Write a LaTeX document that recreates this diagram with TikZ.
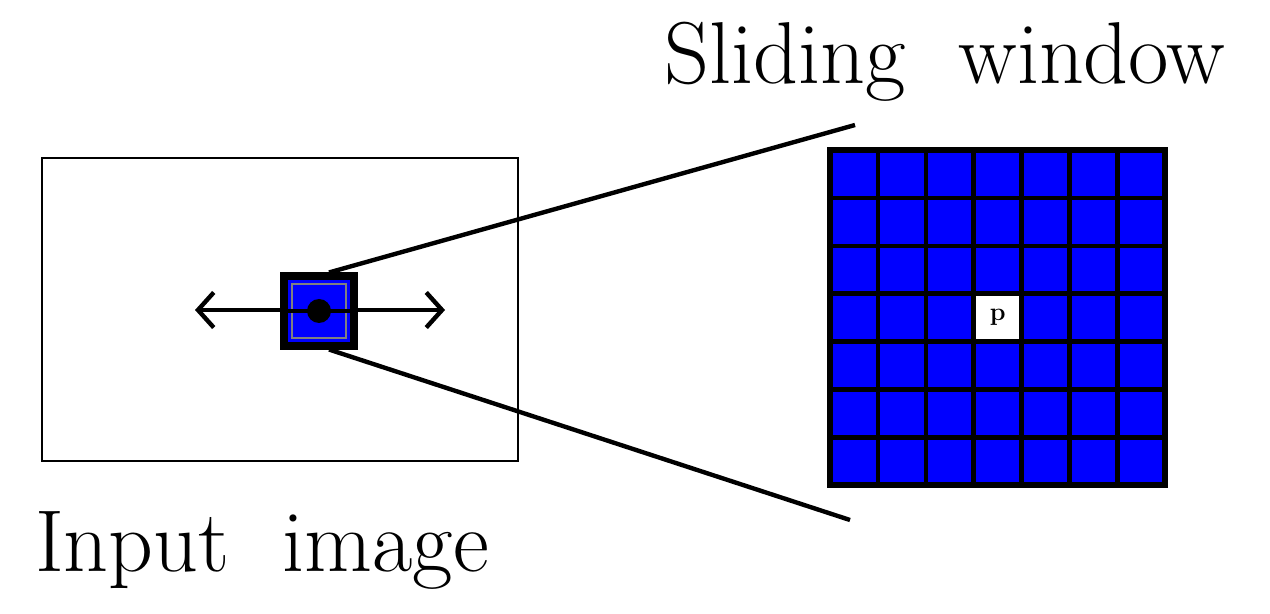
\documentclass[tikz,border=0pt]{standalone}
\usepackage{tikz}
\usetikzlibrary{arrows.meta,calc,positioning}
\tikzset{>=latex}
\tikzset{cell/.style={draw=black,fill=blue,line width=2.6pt,minimum size=47.9*0.02cm,inner sep=0pt,outer sep=0pt},
  slide/.style={->,line width=2.5pt,>={Straight Barb[length=9pt,width=20pt]}}}
\begin{document}
\begin{tikzpicture}[x=0.02cm,y=-0.02cm]
            \useasboundingbox (0,0) rectangle (1270,614);
            \node[draw,line width=1.2pt,minimum width=476*0.02cm,minimum height=303*0.02cm,inner sep=0pt] (img) at (280,309.5) {};
            \node[font=\fontsize{50}{60}\selectfont] (imglabel) at (262,550) {Input~~image};
            \node[font=\fontsize{50}{60}\selectfont] (winlabel) at (945,62) {Sliding~~window};
            \coordinate (L) at (195,310);
            \coordinate (R) at (445,310);
            \draw[slide] (319,310) -- (R);
            \draw[slide] (319,310) -- (L);
            \node[draw=black,fill=blue,line width=4pt,minimum size=70*0.02cm,inner sep=0pt] (win) at (319,311) {};
            \draw[gray,line width=1pt] (win.center) ++(-27,-27) rectangle ++(54,54);
            \draw[black,line width=2.5pt] (win.west) -- (win.east);
            \fill (win.center) circle (12);
            \coordinate (T) at (855,125);
            \coordinate (B) at (850,520);
            \draw[line width=2.5pt] (win.north) ++(10,0) coordinate (wn) (wn) -- (T);
            \draw[line width=2.5pt] (win.south) ++(10,0) coordinate (ws) (ws) -- (B);
            % grid of the sliding window
            \foreach \i in {0,...,6}
              \foreach \j in {0,...,6}
                \node[cell] (c\i\j) at (854+\i*47.9,174+\j*47.9) {};
            \node[cell,fill=white,font=\bfseries\Large] (p) at (c33) {p};
            \draw[line width=3.5pt] (c00.north west) rectangle (c66.south east);
          \end{tikzpicture}
\end{document}
